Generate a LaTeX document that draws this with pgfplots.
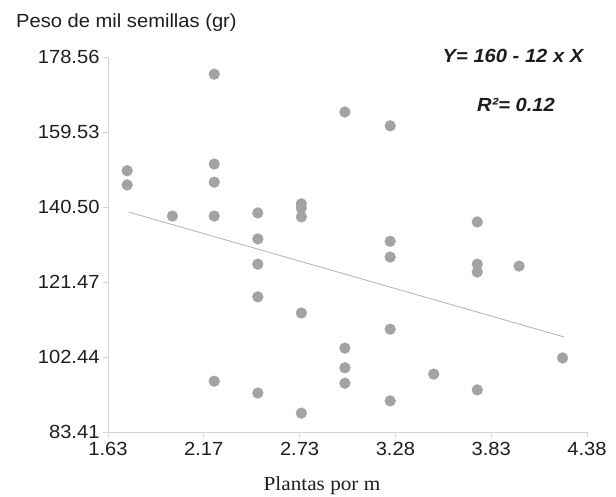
\documentclass[border=0pt]{standalone}
\usepackage{pgfplots}
\pgfplotsset{compat=1.18}
\usepackage{fontspec}
\setmainfont{Liberation Sans}[FakeStretch=1.06]
\newfontfamily\seriffont{Liberation Serif}[FakeStretch=1.06]
\definecolor{ptgray}{RGB}{163,163,163}
\definecolor{lngray}{RGB}{178,178,178}
\definecolor{axgray}{RGB}{212,212,212}
\definecolor{txt}{RGB}{30,30,30}
\begin{document}
\begin{tikzpicture}
\path[use as bounding box] (-108pt,-64pt) rectangle (508pt,432pt);
\begin{axis}[
  at={(0pt,0pt)}, anchor=south west,
  scale only axis, width=479pt, height=375pt,
  xmin=1.63, xmax=4.38, ymin=83.41, ymax=178.56,
  axis lines=left,
  axis line style={-, axgray, line width=0.8pt},
  tick style={axgray, line width=0.8pt},
  tick align=outside, major tick length=5pt,
  xtick={1.63,2.18,2.73,3.28,3.83,4.38},
  xticklabels={1.63,2.17,2.73,3.28,3.83,4.38},
  ytick={83.41,102.44,121.47,140.50,159.53,178.56},
  yticklabels={83.41,102.44,121.47,140.50,159.53,178.56},
  ticklabel style={font=\fontsize{19}{22}\selectfont, text=txt},
  xticklabel style={yshift=-2pt},
  clip=false,
]
\addplot[only marks, mark=*, mark size=5.4pt, mark options={fill=ptgray, draw=ptgray}] coordinates {
(1.74,149.7)(1.74,146.1)(2.00,138.2)(2.24,174.2)(2.24,151.4)(2.24,146.8)(2.24,138.2)(2.24,96.3)
(2.49,139.0)(2.49,132.4)(2.49,126.0)(2.49,117.7)(2.49,93.3)
(2.74,141.3)(2.74,140.2)(2.74,138.0)(2.74,113.6)(2.74,88.2)
(2.99,164.6)(2.99,104.7)(2.99,99.7)(2.99,95.8)
(3.25,161.1)(3.25,131.8)(3.25,127.8)(3.25,109.5)(3.25,91.3)
(3.50,98.1)(3.75,136.7)(3.75,126.0)(3.75,124.0)(3.75,94.1)(3.99,125.5)(4.24,102.2)
};
\addplot[lngray, line width=0.8pt] coordinates {(1.75,139.2)(4.25,107.5)};
\end{axis}
\node[anchor=base west, inner sep=0pt, text=txt, font=\fontsize{19}{22}\selectfont] at (-92pt,404pt) {Peso de mil semillas (gr)};
\node[anchor=base, inner sep=0pt, text=txt, font=\fontsize{19}{22}\selectfont\bfseries\itshape] at (405pt,369pt) {Y= 160 - 12 x X};
\node[anchor=base, inner sep=0pt, text=txt, font=\fontsize{19}{22}\selectfont\bfseries\itshape] at (408pt,320pt) {R²= 0.12};
\node[anchor=base, inner sep=0pt, text=txt, font=\fontsize{20}{22}\selectfont\seriffont] at (214pt,-58pt) {Plantas por m};
\end{tikzpicture}
\end{document}
